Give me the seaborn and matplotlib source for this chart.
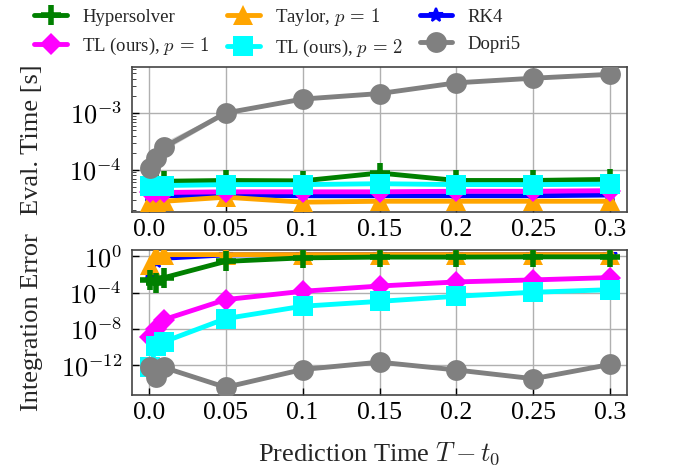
import numpy as np
import pandas as pd
import matplotlib
matplotlib.use("Agg")
import matplotlib.pyplot as plt
import seaborn as sns
from matplotlib.font_manager import FontProperties
from matplotlib.ticker import FixedLocator, NullLocator, LogLocator, NullFormatter, FuncFormatter

sns.set_style("ticks")
plt.rcParams['font.family'] = ['Liberation Serif', 'DejaVu Serif']
plt.rcParams['font.serif'] = ['Liberation Serif', 'DejaVu Serif']
plt.rcParams['mathtext.fontset'] = 'cm'

# ---- data ----
pred_time = [0.001, 0.005, 0.01, 0.05, 0.1, 0.15, 0.2, 0.25, 0.3]
xtick_vals = [0.0, 0.05, 0.1, 0.15, 0.2, 0.25, 0.3]
xtick_labels = ["0.0", "0.05", "0.1", "0.15", "0.2", "0.25", "0.3"]

methods = ["RK4", r"Taylor, $p\,=\,1$", "Hypersolver", r"TL (ours), $p\,=\,1$",
           r"TL (ours), $p\,=\,2$", "Dopri5"]

time_rk4 = [3.6e-5, 3.5e-5, 3.5e-5, 3.6e-5, 3.5e-5, 3.5e-5, 3.5e-5, 3.5e-5, 3.6e-5]
time_taylor = [2.7e-5, 2.7e-5, 2.8e-5, 3.3e-5, 2.7e-5, 2.8e-5, 2.8e-5, 2.8e-5, 2.8e-5]
time_hyper = [6.3e-5, 6.4e-5, 6.3e-5, 6.5e-5, 6.4e-5, 8.8e-5, 6.5e-5, 6.5e-5, 6.8e-5]
time_tl1 = [4.0e-5, 4.0e-5, 4.0e-5, 4.1e-5, 4.1e-5, 4.1e-5, 4.2e-5, 4.2e-5, 4.3e-5]
time_tl2 = [5.2e-5, 5.2e-5, 5.3e-5, 5.5e-5, 5.5e-5, 5.7e-5, 5.5e-5, 5.5e-5, 5.6e-5]
time_dopri = [1.08e-4, 1.62e-4, 2.5e-4, 1.0e-3, 1.76e-3, 2.2e-3, 3.4e-3, 4.1e-3, 4.8e-3]
time_dopri_lo = [1.0e-4, 1.45e-4, 2.2e-4, 0.93e-3, 1.7e-3, 2.15e-3, 3.3e-3, 4.0e-3, 4.7e-3]
time_dopri_hi = [1.2e-4, 1.95e-4, 3.1e-4, 1.08e-3, 1.82e-3, 2.25e-3, 3.5e-3, 4.2e-3, 4.9e-3]

err_rk4 = [1.5e-2, 0.3, 0.6, 1.4, 1.5, 1.5, 1.5, 1.5, 1.5]
err_taylor = [0.1, 1.3, 1.5, 1.5, 1.5, 1.5, 1.5, 1.5, 1.5]
err_hyper = [2.6e-3, 1.2e-3, 4.4e-3, 0.27, 0.66, 0.8, 0.8, 0.85, 0.85]
err_tl1 = [1.2e-9, 1.0e-8, 1.1e-7, 1.7e-5, 1.4e-4, 5.3e-4, 1.5e-3, 2.5e-3, 4.5e-3]
err_tl2 = [6e-13, 1.5e-10, 4e-10, 1.4e-7, 3.2e-6, 1.1e-5, 4e-5, 1.1e-4, 2.1e-4]
err_dopri = [6e-13, 6e-14, 6e-13, 4e-15, 3.6e-13, 2.3e-12, 3.2e-13, 3.5e-14, 1.3e-12]

times = [time_rk4, time_taylor, time_hyper, time_tl1, time_tl2, time_dopri]
errs = [err_rk4, err_taylor, err_hyper, err_tl1, err_tl2, err_dopri]

colors = ["blue", "orange", "green", "magenta", "cyan", "gray"]
markers = ["*", "^", "+", "D", "s", "o"]
msizes = [10, 14, 14, 11, 14, 15]
medges = [1.5, 0, 4, 0, 0, 0]

fig, (ax1, ax2) = plt.subplots(2, 1, figsize=(6.97, 4.70), dpi=100)
fig.subplots_adjust(left=0.189, right=0.9, top=0.857, bottom=0.16, hspace=0.26)

for i, m in enumerate(methods):
    kw = dict(color=colors[i], linewidth=3.5, marker=markers[i], markersize=msizes[i],
              markeredgewidth=medges[i], markeredgecolor=colors[i],
              markerfacecolor=colors[i], zorder=3 + i)
    sns.lineplot(x=pred_time, y=times[i], ax=ax1, errorbar=None, label=m, **kw)
    sns.lineplot(x=pred_time, y=errs[i], ax=ax2, errorbar=None, **kw)
    if m == "Dopri5":
        ax1.fill_between(pred_time, time_dopri_lo, time_dopri_hi, color="gray",
                         alpha=0.35, lw=0, zorder=2)

h, l = ax1.get_legend_handles_labels()
ax1.get_legend().remove()
order = ["Hypersolver", methods[3], methods[1], methods[4], "RK4", "Dopri5"]
hh = [h[l.index(o)] for o in order]
leg = fig.legend(hh, order, loc="upper left", ncol=3, frameon=False,
                 prop=FontProperties(family="Liberation Serif", size=13.5),
                 bbox_to_anchor=(0.033, 1.012), handlelength=1.75, columnspacing=0.9,
                 labelspacing=0.55, handletextpad=0.8, borderaxespad=0.2)
for t in leg.get_texts():
    t.set_fontfamily("Liberation Serif")

logfmt = FuncFormatter(lambda v, p: r"$10^{%d}$" % int(round(np.log10(v))))

for ax in (ax1, ax2):
    ax.set_yscale("log")
    ax.set_xlim(-0.011, 0.311)
    ax.xaxis.set_major_locator(FixedLocator(xtick_vals))
    ax.set_xticklabels(xtick_labels)
    ax.grid(True, color="#b0b0b0", linewidth=1.0)
    ax.tick_params(axis="x", labelsize=18.5, pad=5)
    ax.tick_params(axis="y", labelsize=19, pad=7)
    ax.tick_params(direction="in", length=5, width=1, colors="black")
    for s in ax.spines.values():
        s.set_color("#444444")
        s.set_linewidth(1.2)
    ax.set_xlabel("")

ax1.set_ylim(1.8e-5, 6.4e-3)
ax1.yaxis.set_major_locator(FixedLocator([1e-4, 1e-3]))
ax1.yaxis.set_major_formatter(logfmt)
ax1.yaxis.set_minor_locator(LogLocator(base=10, subs=np.arange(2, 10)))
ax1.yaxis.set_minor_formatter(NullFormatter())
ax1.tick_params(which="minor", direction="in", length=3)
ax1.set_ylabel("Eval. Time [s]", fontsize=19)

ax2.set_ylim(6e-16, 5)
ax2.yaxis.set_major_locator(FixedLocator([1e0, 1e-4, 1e-8, 1e-12]))
ax2.yaxis.set_major_formatter(logfmt)
ax2.yaxis.set_minor_locator(NullLocator())
ax2.set_ylabel("Integration Error", fontsize=19)
ax2.set_xlabel(r"Prediction Time $T - t_0$", fontsize=19, labelpad=12)

for ax in (ax1, ax2):
    ax.yaxis.set_label_coords(-0.18, 0.5)

fig.savefig("out.png", dpi=100)
